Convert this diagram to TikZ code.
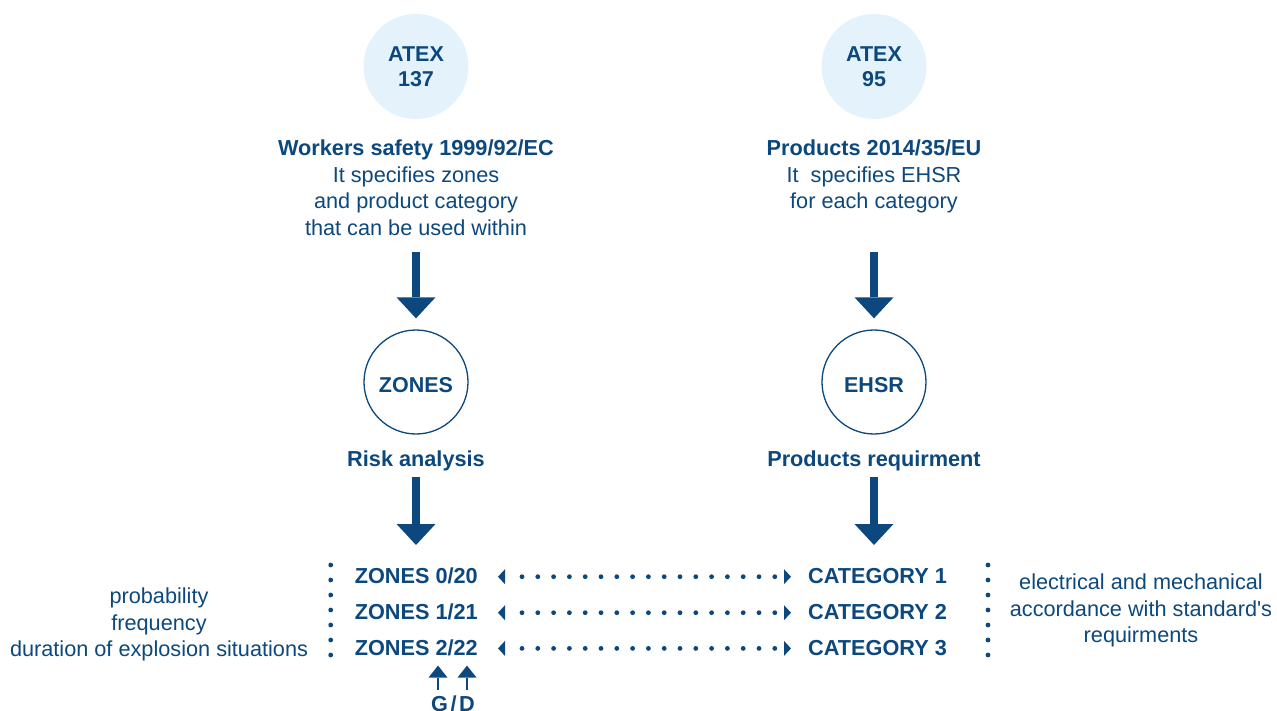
\documentclass[tikz,border=0pt]{standalone}
\usepackage{fontspec}
\setmainfont{Liberation Sans}
\usetikzlibrary{arrows.meta,calc}
\definecolor{atexblue}{HTML}{0C487D}
\definecolor{atexlight}{HTML}{E4F3FB}
\tikzset{
  txt/.style={text=atexblue, inner sep=0pt, align=center, font=\fontsize{21.7}{26.4}\selectfont},
  boldtxt/.style={text=atexblue, inner sep=0pt, font=\fontsize{21.7}{26}\selectfont\bfseries},
  atexcircle/.style={circle, fill=atexlight, minimum size=105pt, inner sep=0pt, text=atexblue, align=center, font=\fontsize{21.5}{25}\selectfont\bfseries},
  ring/.style={circle, draw=atexblue, line width=1.3pt, minimum size=104pt, inner sep=0pt, text=atexblue, text height=22pt, font=\fontsize{21.5}{25}\selectfont\bfseries},
  bigarrow/.style={draw=atexblue, fill=atexblue, line width=8pt, -{Triangle[width=39pt,length=21pt,line width=0pt]}},
  smallarrow/.style={draw=atexblue, fill=atexblue, line width=2.6pt, -{Triangle[width=19pt,length=12pt,line width=0pt]}},
  dotconn/.style={draw=atexblue, line width=4.8pt, line cap=round, dash pattern=on 0pt off 15.8pt, shorten <=44pt, shorten >=33pt},
  vdots/.style={draw=atexblue, line width=4.8pt, line cap=round, dash pattern=on 0pt off 15pt},
  tipfill/.style={fill=atexblue}
}
\begin{document}
\begin{tikzpicture}[x=1pt,y=-1pt]
\useasboundingbox (0,0) rectangle (1277,711);
% top circles
\node[atexcircle] (atex137) at (416,66.5) {ATEX\\137};
\node[atexcircle] (atex95) at (874,66.5) {ATEX\\95};
% descriptions
\node[txt, anchor=north] (work) at (416,140) {{\bfseries Workers safety 1999/92/EC}\\It specifies zones\\and product category\\that can be used within};
\node[txt, anchor=north] (prod) at (874,140) {{\bfseries Products 2014/35/EU}\\It~\ specifies EHSR\\for each category};
% middle circles
\node[ring] (zones) at (416,382) {ZONES};
\node[ring] (ehsr) at (874,382) {EHSR};
% labels under circles
\node[boldtxt, anchor=base] (risk) at (416,466.7) {Risk analysis};
\node[boldtxt, anchor=base] (preq) at (874,466.7) {Products requirment};
% big arrows
\coordinate (w1) at (416,252);
\coordinate (w2) at (874,252);
\coordinate (e1) at (416,545);
\coordinate (e2) at (874,545);
\draw[bigarrow] (w1) -- ([yshift=11pt]zones.north);
\draw[bigarrow] (w2) -- ([yshift=11pt]ehsr.north);
\draw[bigarrow] (risk.south |- 0,477) -- (e1);
\draw[bigarrow] (preq.south |- 0,477) -- (e2);
% zones and categories
\node[boldtxt, anchor=base east] (z1) at (478,583.3) {ZONES 0/20};
\node[boldtxt, anchor=base east] (z2) at (478,619.3) {ZONES 1/21};
\node[boldtxt, anchor=base east] (z3) at (478,655) {ZONES 2/22};
\node[boldtxt, anchor=base west] (c1) at (808,583.3) {CATEGORY 1};
\node[boldtxt, anchor=base west] (c2) at (808,619.3) {CATEGORY 2};
\node[boldtxt, anchor=base west] (c3) at (808,655) {CATEGORY 3};
\foreach \z/\c in {z1/c1,z2/c2,z3/c3}{
  \draw[dotconn] ([yshift=6.6pt]\z.base east) -- ([yshift=6.6pt]\c.base west);
  \fill[tipfill] ($(\z.base east)+(20,-6.6)$) -- ++(7,-7.5) -- ++(0,15) -- cycle;
  \fill[tipfill] ($(\c.base west)+(-17,-6.6)$) -- ++(-7,-7.5) -- ++(0,15) -- cycle;
}
% vertical dotted lines
\draw[vdots] (330.7,565) -- (330.7,655);
\draw[vdots] (988,565) -- (988,655);
% side texts
\node[txt, anchor=north] (left) at (159,588) {probability\\frequency\\duration of explosion situations};
\node[txt, anchor=north] (right) at (1141,574) {electrical and mechanical\\accordance with standard\textquotesingle s\\requirments};
% G / D
\node[boldtxt, anchor=base] (gd) at (453,711.5) {G\kern2.5pt/\kern2.5pt D};
\draw[smallarrow] ($(gd.north)+(-15,-6)$) -- ($(gd.north)+(-15,-30)$);
\draw[smallarrow] ($(gd.north)+(14,-6)$) -- ($(gd.north)+(14,-30)$);
\end{tikzpicture}
\end{document}
